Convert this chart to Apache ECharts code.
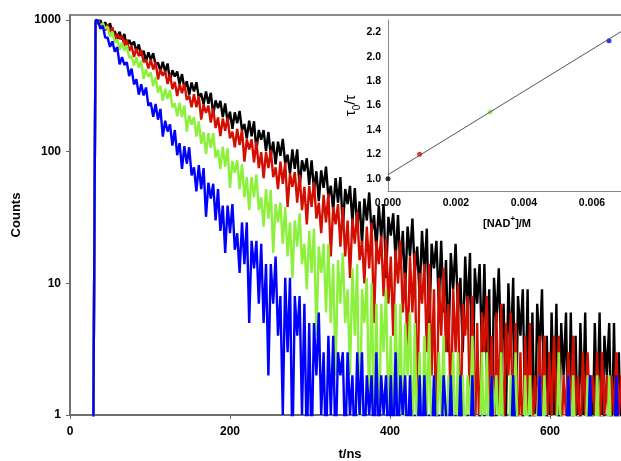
<!DOCTYPE html>
<html><head><meta charset="utf-8">
<script src="https://cdn.jsdelivr.net/npm/echarts@6/dist/echarts.min.js"></script>
<style>html,body{margin:0;padding:0;background:#fff}#c{width:621px;height:461px}</style>
</head><body><div id="c"></div>
<script>
// time channels: first value at startNs, then every stepNs
const startNs = 29, stepNs = 3;
const blackCounts = [0,968,
940,998,861,961,865,942,794,818,723,814,709,784,619,706,644,685,574,
652,534,583,485,567,498,560,453,475,408,482,405,467,345,415,372,406,325,
388,301,342,271,335,286,337,257,277,228,286,231,280,190,245,214,243,183,
232,168,201,149,199,164,204,145,162,126,172,131,170,102,146,123,146,101,
141,93,119,80,119,93,125,81,95,68,104,74,104,53,86,71,89,56,
86,51,71,42,72,53,77,45,55,36,63,41,64,26,52,40,55,29,
53,26,42,20,44,30,49,24,33,18,39,22,40,11,32,23,34,15,
33,13,25,9,27,16,31,12,19,8,25,12,26,4,20,13,21,7,
21,6,15,3,17,9,20,6,11,3,16,6,17,1,13,7,14,3,
14,2,9,0,11,5,13,3,7,1,10,3,11,0,8,4,9,1,
9,0,6,0,7,3,9,1,4,0,6,1,7,0,5,2,6,0,
6,0,4,0,5,1,6,0,2,0,5,1,6,0,4,2,5,0,
5,0,3,0,4,1,5];
const redCounts = [0,950,
1005,922,941,833,924,806,880,700,787,716,755,634,710,583,632,525,606,
532,593,479,500,428,500,420,480,354,423,377,410,326,387,299,338,265,328,
278,327,247,266,217,273,217,264,175,228,197,224,166,213,151,182,131,179,
144,182,126,142,108,149,112,147,84,124,104,124,83,119,75,99,63,99,
75,103,64,76,52,84,57,83,38,68,54,70,41,67,36,54,28,55,
38,59,31,41,24,47,29,48,16,38,28,40,19,38,16,30,11,31,
20,35,15,21,10,27,13,29,5,21,14,23,8,22,7,16,4,18,
10,21,6,12,3,16,6,17,1,12,7,14,3,14,2,9,0,11,
4,13,3,7,1,9,3,10,0,7,4,8,1,8,0,5,0,6,
3,8,1,4,0,6,1,7,0,5,2,6,0,5,0,3,0,4,
1,5,0,2,1,4,1,4,0,3,1,4,1,4,0,2,1,3,
1,4,1,2,0,3,1,3,1,2,1,3,0,3,1,2,0,2,
1,3,1,2,0,2,1];
const greenCounts = [0,990,
1000,865,948,859,889,746,819,673,715,593,670,585,642,516,531,451,520,
433,488,357,421,371,400,314,370,281,317,243,300,251,294,217,233,186,235,
183,224,142,189,160,183,130,170,115,141,96,138,107,138,90,103,74,109,
77,106,53,85,69,86,52,80,45,64,36,64,45,67,36,45,27,52,
31,51,17,40,29,41,20,38,16,29,11,30,19,34,14,20,9,25,
12,26,4,19,12,20,6,20,5,14,2,15,7,17,5,9,2,13,
4,14,0,9,5,11,1,10,1,7,0,7,3,9,1,4,0,7,
1,7,0,5,2,6,0,5,0,3,0,4,1,5,0,2,0,3,
1,4,0,2,1,3,0,3,0,2,0,2,1,4,0,1,0,3,
0,3,0,2,1,2,0,3,0,1,0,2,0,3,0,1,0,2,
0,2,0,1,1,2,0,2,0,1,0,1,0,3,0,1,0,2,
0,2,0,1,0,1,0,2,0,1,0,2,0,1,0,0,2,0,
1,0,1,0,2,0,1];
const blueCounts = [0,1000,
987,859,906,736,735,625,688,573,622,461,523,456,478,375,427,324,355,
271,325,267,307,223,235,184,230,175,211,130,172,142,161,111,146,94,116,
74,110,81,108,66,76,50,79,52,75,32,58,44,57,30,52,25,39,
17,39,24,40,18,24,12,29,14,29,5,21,13,21,7,20,5,14,
2,14,7,16,4,8,1,11,3,11,0,8,4,8,1,7,0,5,
0,5,2,6,1,3,0,4,1,4,0,3,2,3,0,3,1,2,
0,3,1,3,0,2,1,2,0,3,0,2,1,2,0,2,0,3,
0,2,1,2,0,2,0,1,0,2,0,2,0,1,0,2,0,1,
0,2,1,0,2,0,1,0,2,0,0,1,0,2,0,0,1,0,
1,0,0,2,0,1,0,0,0,1,0,0,2,0,0,0,1,0,
0,1,0,0,0,2,0,0,1,0,0,0,0,1,0,0,0,2,
0,0,0,0,1,0,0,0,2,0,0,0,0,0,1,0,0,0,
0,2,0,0,0,0,1];
// zero counts fall below the log axis floor
const zeroFloor = 0.5;

// inset: Stern-Volmer
const nadConc = [0, 0.00093, 0.003, 0.0065];
const tauRatio = [1.0, 1.2, 1.546, 2.13];
const fitConc = [0, 0.007];
const fitRatio = [1.033, 2.23];

const mainTicks = [1, 10, 100, 1000];

const FONT = "'Liberation Sans', Arial, sans-serif";
const cBlack = '#000000', cRed = '#d20f00', cGreen = '#8cf03c', cBlue = '#0000ff';
const pointColors = [cBlack, cRed, cGreen, cBlue];

function toSeries(counts) {
  return counts.map((c, i) => [startNs + i * stepNs, c > 0 ? c : zeroFloor]);
}
function decay(counts, color) {
  return {
    type: 'line', xAxisIndex: 0, yAxisIndex: 0, data: toSeries(counts),
    symbol: 'none', showSymbol: false, silent: true, clip: true,
    lineStyle: { color: color, width: 2.4 }, animation: false
  };
}

const chart = echarts.init(document.getElementById('c'), null, { renderer: 'canvas' });
chart.setOption({
  animation: false,
  backgroundColor: '#ffffff',
  grid: [
    { left: 70, top: 15, right: -9, bottom: 46, show: true, borderColor: '#666', borderWidth: 1.5,
      containLabel: false, outerBoundsMode: 'none' },
    { left: 388, top: 20, right: -5, bottom: 270, containLabel: false, outerBoundsMode: 'none' }
  ],
  xAxis: [
    {
      type: 'value', gridIndex: 0, min: 0, max: 700, interval: 200,
      name: 't/ns', nameLocation: 'middle', nameGap: 33,
      nameTextStyle: { fontFamily: FONT, fontWeight: 'bold', fontSize: 13, color: '#000' },
      axisLine: { show: true, lineStyle: { color: '#666', width: 1.5 } },
      axisTick: { show: true, length: 4, lineStyle: { color: '#666' } },
      axisLabel: { fontFamily: FONT, fontWeight: 'bold', fontSize: 12, color: '#000', margin: 11, showMaxLabel: false },
      splitLine: { show: false }
    },
    {
      type: 'value', gridIndex: 1, min: 0, max: 0.007, interval: 0.002,
      name: '{n|[NAD}{p|+}{n|]/M}', nameLocation: 'middle', nameGap: 24,
      nameTextStyle: {
        fontFamily: FONT, fontWeight: 'bold', fontSize: 11, color: '#000',
        rich: {
          n: { fontFamily: FONT, fontWeight: 'bold', fontSize: 11, color: '#000', lineHeight: 14, verticalAlign: 'bottom' },
          p: { fontFamily: FONT, fontWeight: 'bold', fontSize: 8, color: '#000', lineHeight: 8, verticalAlign: 'top' }
        }
      },
      axisLine: { show: true, onZero: false, lineStyle: { color: '#888', width: 1 } },
      axisTick: { show: false },
      axisLabel: { fontFamily: FONT, fontWeight: 'bold', fontSize: 10.5, color: '#000', margin: 7, showMaxLabel: false,
        formatter: v => v.toFixed(3) },
      splitLine: { show: false }
    }
  ],
  yAxis: [
    {
      type: 'log', gridIndex: 0, min: mainTicks[0], max: 1091, logBase: 10,
      name: 'Counts', nameLocation: 'middle', nameGap: 40,
      nameTextStyle: { fontFamily: FONT, fontWeight: 'bold', fontSize: 13, color: '#000' },
      axisLine: { show: true, lineStyle: { color: '#666', width: 1.5 } },
      axisTick: { show: true, length: 4, lineStyle: { color: '#666' } },
      axisLabel: { fontFamily: FONT, fontWeight: 'bold', fontSize: 12, color: '#000', margin: 9, showMaxLabel: false,
        formatter: v => String(Math.round(v)) },
      minorTick: { show: false },
      splitLine: { show: false }
    },
    {
      type: 'value', gridIndex: 1, min: 0.9, max: 2.3, minInterval: 0.2, maxInterval: 0.2, splitNumber: 7,
      name: '{t|τ}{s|0}{t|/τ}', nameLocation: 'middle', nameGap: 30,
      nameTextStyle: {
        fontFamily: FONT, fontSize: 14, color: '#000',
        rich: {
          t: { fontFamily: FONT, fontSize: 15, color: '#000', lineHeight: 15, verticalAlign: 'top' },
          s: { fontFamily: FONT, fontSize: 10, color: '#000', lineHeight: 10, verticalAlign: 'top', padding: [9, 0, 0, 0] }
        }
      },
      axisLine: { show: true, onZero: false, lineStyle: { color: '#888', width: 1 } },
      axisTick: { show: false },
      axisLabel: { fontFamily: FONT, fontWeight: 'bold', fontSize: 10.5, color: '#000', margin: 7,
        showMinLabel: false, showMaxLabel: false, formatter: v => v.toFixed(1) },
      splitLine: { show: false }
    }
  ],
  series: [
    decay(blackCounts, cBlack),
    decay(redCounts, cRed),
    decay(greenCounts, cGreen),
    decay(blueCounts, cBlue),
    {
      type: 'line', xAxisIndex: 1, yAxisIndex: 1, symbol: 'none', silent: true,
      data: fitConc.map((x, i) => [x, fitRatio[i]]),
      lineStyle: { color: '#555', width: 1 }
    },
    {
      type: 'scatter', xAxisIndex: 1, yAxisIndex: 1, symbolSize: 5, silent: true,
      data: nadConc.map((x, i) => ({ value: [x, tauRatio[i]], itemStyle: { color: pointColors[i] } }))
    }
  ]
});
</script></body></html>
